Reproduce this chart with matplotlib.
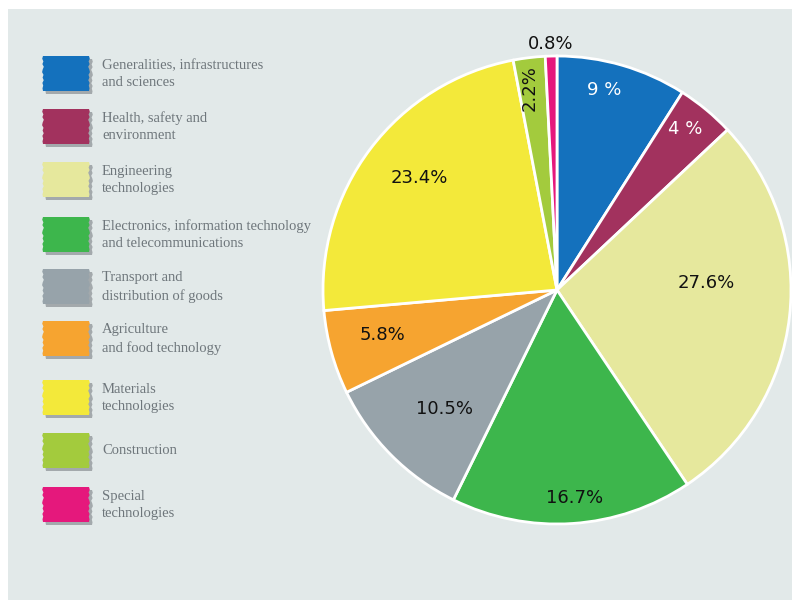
import numpy as np
import matplotlib.pyplot as plt
from matplotlib.patches import Rectangle, Polygon

# shares of each field, clockwise from 12 o'clock
categories = [
    "Generalities, infrastructures\nand sciences",
    "Health, safety and\nenvironment",
    "Engineering\ntechnologies",
    "Electronics, information technology\nand telecommunications",
    "Transport and\ndistribution of goods",
    "Agriculture\nand food technology",
    "Materials\ntechnologies",
    "Construction",
    "Special\ntechnologies",
]
shares = [9, 4, 27.6, 16.7, 10.5, 5.8, 23.4, 2.2, 0.8]
share_labels = ["9 %", "4 %", "27.6%", "16.7%", "10.5%", "5.8%", "23.4%", "2.2%", "0.8%"]
colors = ["#1471bd", "#a2325e", "#e6e89d", "#3db64c", "#97a3aa",
          "#f6a430", "#f3e93a", "#a3cb3d", "#e5187c"]

# label placement tweaks (radius as fraction, extra angle in degrees)
label_r = [0.88, 0.88, 0.64, 0.89, 0.70, 0.77, 0.76, 0.87, 1.05]
label_da = [3, 1, 9, 1, 2, -1, -2, 1, 0]
label_white = [True, True, False, False, False, False, False, False, False]

W, H = 792, 600
BG = "#e2e9e9"
fig = plt.figure(figsize=(W / 100, H / 100), dpi=100, facecolor="white")

# full-figure axes in pixel coordinates for background and legend
lax = fig.add_axes([0, 0, 1, 1])
lax.set_xlim(0, W)
lax.set_ylim(H, 0)
lax.axis("off")
lax.add_patch(Rectangle((8, 9), W - 8, H - 9, facecolor=BG, edgecolor="none", zorder=0))

row_y = [74, 127, 180, 235, 287, 339, 398, 451, 505]
jag = [0, 0.8, -0.4, 0.6, -0.8, 0.3, 0.9, -0.5, 0.4, -0.7, 0.6, -0.2, 0.5, 0]


def brush(x0, y0, w, h, color, z):
    n = len(jag)
    ys = np.linspace(y0, y0 + h, n)
    right = [(x0 + w + jag[i], ys[i]) for i in range(n)]
    left = [(x0 - jag[n - 1 - i], ys[n - 1 - i]) for i in range(n)]
    return Polygon(right + left, closed=True, facecolor=color, edgecolor="none", zorder=z)


for i, (cat, col) in enumerate(zip(categories, colors)):
    yc = row_y[i]
    lax.add_patch(brush(46, yc - 15, 46, 35, "#a3a9ac", 1))
    lax.add_patch(brush(43, yc - 18, 46, 35, col, 2))
    lax.text(102, yc, cat, ha="left", va="center", fontsize=10.5,
             family="Liberation Serif", color="#6e767b", linespacing=1.4)

# pie
cx, cy, R = 557, 290, 234
ax = fig.add_axes([(cx - R) / W, (H - cy - R) / H, 2 * R / W, 2 * R / H])
wedges, _ = ax.pie(shares, colors=colors, startangle=90, counterclock=False,
                   radius=1, wedgeprops=dict(edgecolor="white", linewidth=2))
ax.set_xlim(-1, 1)
ax.set_ylim(-1, 1)
ax.axis("off")

for i, w in enumerate(wedges):
    ang = np.deg2rad((w.theta1 + w.theta2) / 2 + label_da[i])
    r = label_r[i]
    rot = 90 if share_labels[i] == "2.2%" else 0
    ax.text(r * np.cos(ang), r * np.sin(ang), share_labels[i], ha="center", va="center",
            fontsize=13, rotation=rot, color="white" if label_white[i] else "#111111")

fig.savefig("out.png", dpi=100, facecolor="white")
